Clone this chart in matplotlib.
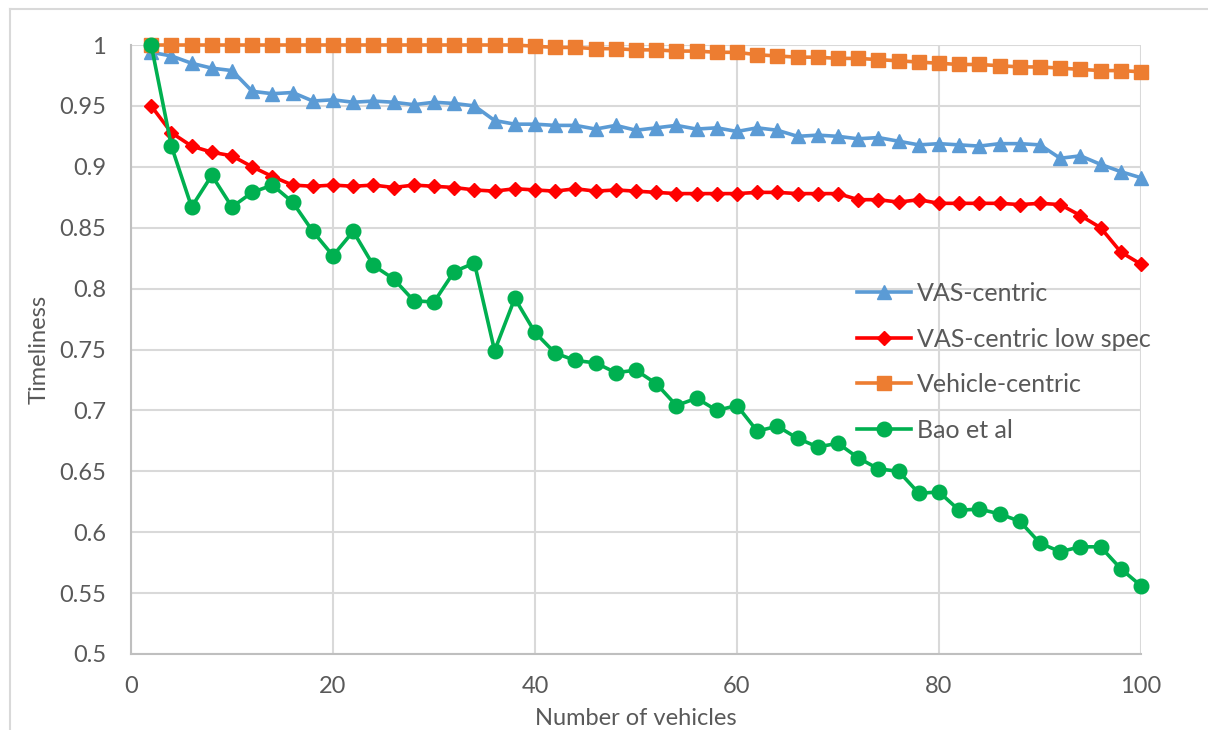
import matplotlib
matplotlib.use("Agg")
import matplotlib.pyplot as plt
from matplotlib.lines import Line2D

# Number of vehicles on the x axis
vehicles = list(range(2, 101, 2))

vas_centric = [
    0.994, 0.991, 0.985, 0.981, 0.979, 0.962, 0.960, 0.961, 0.954, 0.955,
    0.953, 0.954, 0.953, 0.951, 0.953, 0.952, 0.950, 0.938, 0.935, 0.935,
    0.934, 0.934, 0.931, 0.934, 0.930, 0.932, 0.934, 0.931, 0.932, 0.929,
    0.932, 0.930, 0.925, 0.926, 0.925, 0.923, 0.924, 0.921, 0.918, 0.919,
    0.918, 0.917, 0.919, 0.919, 0.918, 0.907, 0.909, 0.902, 0.896, 0.891,
]

vas_centric_low_spec = [
    0.950, 0.928, 0.917, 0.912, 0.909, 0.900, 0.892, 0.885, 0.884, 0.885,
    0.884, 0.885, 0.883, 0.885, 0.884, 0.883, 0.881, 0.880, 0.882, 0.881,
    0.880, 0.882, 0.880, 0.881, 0.880, 0.879, 0.878, 0.878, 0.878, 0.878,
    0.879, 0.879, 0.878, 0.878, 0.878, 0.873, 0.873, 0.871, 0.873, 0.870,
    0.870, 0.870, 0.870, 0.869, 0.870, 0.869, 0.860, 0.850, 0.830, 0.820,
]

vehicle_centric = [
    1.000, 1.000, 1.000, 1.000, 1.000, 1.000, 1.000, 1.000, 1.000, 1.000,
    1.000, 1.000, 1.000, 1.000, 1.000, 1.000, 1.000, 1.000, 1.000, 0.999,
    0.998, 0.998, 0.997, 0.997, 0.996, 0.996, 0.995, 0.995, 0.994, 0.994,
    0.992, 0.991, 0.990, 0.990, 0.989, 0.989, 0.988, 0.987, 0.986, 0.985,
    0.984, 0.984, 0.983, 0.982, 0.982, 0.981, 0.980, 0.979, 0.979, 0.978,
]

bao_et_al = [
    1.000, 0.917, 0.867, 0.893, 0.867, 0.879, 0.885, 0.871, 0.847, 0.827,
    0.847, 0.819, 0.808, 0.790, 0.789, 0.814, 0.821, 0.749, 0.792, 0.764,
    0.747, 0.741, 0.739, 0.731, 0.733, 0.722, 0.704, 0.710, 0.700, 0.704,
    0.683, 0.687, 0.677, 0.670, 0.673, 0.661, 0.652, 0.650, 0.632, 0.633,
    0.618, 0.619, 0.615, 0.609, 0.591, 0.584, 0.588, 0.588, 0.570, 0.556,
]

x_ticks = [0, 20, 40, 60, 80, 100]
y_ticks = [0.5, 0.55, 0.6, 0.65, 0.7, 0.75, 0.8, 0.85, 0.9, 0.95, 1.0]
y_tick_labels = ["0.5", "0.55", "0.6", "0.65", "0.7", "0.75", "0.8",
                 "0.85", "0.9", "0.95", "1"]

series = [
    ("VAS-centric", vas_centric, "#5B9BD5", "^", 10.5),
    ("VAS-centric low spec", vas_centric_low_spec, "#FF0000", "D", 7.0),
    ("Vehicle-centric", vehicle_centric, "#ED7D31", "s", 10.0),
    ("Bao et al", bao_et_al, "#00B050", "o", 10.5),
]

plt.rcParams["font.family"] = ["Lato", "DejaVu Sans"]
text_color = "#595959"
grid_color = "#D9D9D9"

W, H = 1208, 730
fig = plt.figure(figsize=(W / 100, H / 100), dpi=100)
ax = fig.add_axes([131 / W, 1 - 654 / H, (1141 - 131) / W, (654 - 45) / H])

for label, values, color, marker, ms in series:
    ax.plot(vehicles, values, color=color, lw=2.6, marker=marker,
            markersize=ms, markerfacecolor=color, markeredgecolor=color,
            label=label, clip_on=False, solid_joinstyle="round")

ax.set_xlim(0, 100)
ax.set_ylim(0.5, 1.0)
ax.set_xticks(x_ticks)
ax.set_xticklabels([str(v) for v in x_ticks])
ax.set_yticks(y_ticks)
ax.set_yticklabels(y_tick_labels)

ax.grid(True, color=grid_color, lw=1.5)
ax.set_axisbelow(True)
for side in ("top", "right"):
    ax.spines[side].set_visible(False)
for side in ("left", "bottom"):
    ax.spines[side].set_color("#BFBFBF")
    ax.spines[side].set_linewidth(1.5)

ax.tick_params(axis="both", length=0, labelsize=17, labelcolor=text_color)
ax.tick_params(axis="y", pad=18)
ax.tick_params(axis="x", pad=16)

ax.set_xlabel("Number of vehicles", fontsize=17, color=text_color, labelpad=8)
ax.set_ylabel("Timeliness", fontsize=17, color=text_color, labelpad=7)

leg = fig.legend(loc="upper left", bbox_to_anchor=(857 / W, 1 - 282 / H),
                 frameon=False, fontsize=18, handlelength=2.15,
                 handletextpad=0.25, labelspacing=0.9, borderpad=0,
                 borderaxespad=0)
for t in leg.get_texts():
    t.set_color(text_color)

# light frame around the chart area
fig.add_artist(Line2D([10 / W, 10 / W], [1 - 9 / H, 0], color=grid_color,
                      lw=1.5, transform=fig.transFigure))
fig.add_artist(Line2D([10 / W, 1], [1 - 9 / H, 1 - 9 / H], color=grid_color,
                      lw=1.5, transform=fig.transFigure))

fig.savefig("out.png", dpi=100)
